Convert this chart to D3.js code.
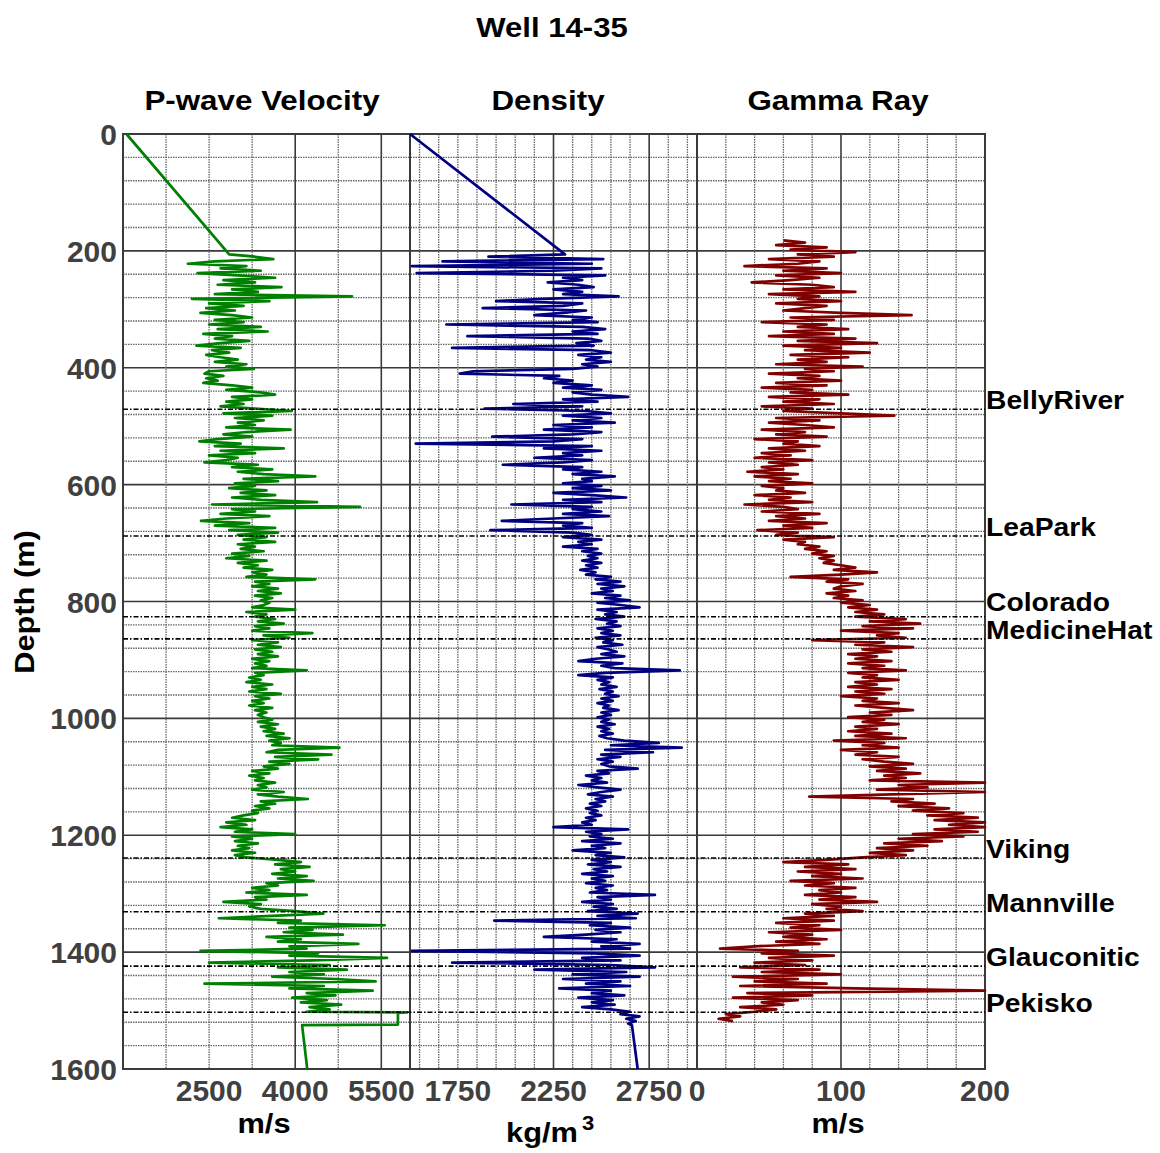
<!DOCTYPE html>
<html><head><meta charset="utf-8">
<script src="https://cdn.jsdelivr.net/npm/d3@7"></script>
<style>
body{margin:0;background:#fff}
text{font-family:"Liberation Sans",Arial,Helvetica,sans-serif;font-weight:bold}
</style>
</head><body>
<svg id="chart" width="1160" height="1153"></svg>
<script>
// ---------------- DATA ----------------
const chartTitle = "Well 14-35";
const panelTitles = ["P-wave Velocity", "Density", "Gamma Ray"];
const panelUnits = ["m/s", "kg/m", "m/s"];
const depthTicks = [0, 200, 400, 600, 800, 1000, 1200, 1400, 1600];
const velTicks = [2500, 4000, 5500];
const denTicks = [1750, 2250, 2750];
const grTicks = [0, 100, 200];

const formationNames = ["BellyRiver", "LeaPark", "Colorado", "MedicineHat", "Viking", "Mannville", "Glauconitic", "Pekisko"];
const formationDepths = [471, 688, 826, 864, 1239, 1331, 1424, 1503];

// P-wave velocity (m/s): surface point, samples every 4 m from 206 m, tail
const velHead = [[0, 1060]];
const velStart = 206, velStep = 4;
const velValues = [
2850,3300,3620,2600,2130,3150,2700,3400,2300,3000,
3650,2750,3300,2650,3760,2900,3350,2600,4990,2200,
3550,2500,3100,2450,2950,2350,2900,3250,2600,3100,
2500,3400,2650,3520,2400,2900,2600,3200,2700,2280,
3050,2550,2850,2450,2700,3000,2600,3150,2800,3280,
2500,2420,2750,2450,2650,2400,2900,3250,2800,3400,
3650,2900,3250,2800,3100,2700,3300,3940,2750,3600,
2950,3450,3000,3300,2800,3920,3150,2750,3250,2650,
2330,3050,2600,3800,2700,3300,2500,3000,2800,2420,
3350,2900,3600,3000,3450,4350,3100,3700,2950,3300,
2850,3500,3050,3650,2900,3400,4380,2550,5130,2900,
3300,2700,3550,2800,2360,3200,2600,3650,2850,3700,
3000,3500,3100,3650,3000,3300,3050,3450,2900,3200,
2800,3500,3000,3350,3100,3600,3250,3500,3150,4350,
3300,3550,3250,3700,3350,3750,3300,3600,3400,3550,
3450,3250,4000,3150,3500,3300,3650,3350,3800,3300,
3550,3250,4300,3450,3900,3250,3700,3350,3750,3300,
3600,3350,3700,3250,3550,3300,3500,3250,4200,3300,
3450,3200,3400,3150,3600,3250,3500,3200,3750,3300,
3550,3250,3450,3200,3600,3300,3500,3350,3450,3600,
3350,3700,3400,3650,3450,3800,3500,3900,3550,3750,
3600,4770,3700,3500,4630,3650,4400,3550,3900,3450,
3700,3250,3550,3200,3450,3300,3650,3350,3500,3250,
3800,3350,3700,4220,3400,3650,3300,3550,3250,3350,
3100,2900,3300,2800,3150,2700,3250,2950,4000,2900,
3250,2950,3350,3000,3200,2900,3300,2950,3150,3700,
4100,3650,4250,3750,4000,3600,4200,3700,4320,3500,
3700,3250,3550,3150,4200,3300,3500,2750,3400,3200,
3400,4000,4490,3600,2670,4100,3700,5560,3900,4300,
3800,4830,3500,4100,3700,5100,3900,4200,2350,4400,
3900,5600,4300,2500,4600,3700,4900,3900,4500,3600,
4700,5400,2420,4500,3900,5350,4200,4700,3950,4550,
4100,4800,4250,4600
];
const velTail = [[1502, 4200], [1503, 5950], [1504, 5790], [1524, 5790], [1525, 4120], [1600, 4210]];

// Density (kg/m^3)
const denHead = [[0, 1500]];
const denStart = 206, denStep = 4;
const denValues = [
2310,1910,2510,1670,2450,1510,2500,2250,1535,2520,
2300,2400,2220,2380,2460,2250,2400,2300,2590,2200,
1950,2400,2300,1880,2420,2300,2150,2450,2350,2480,
1690,2400,2520,2350,2480,1800,2430,2500,2370,2460,
1720,2450,2550,2380,2500,2420,2550,2400,2480,2350,
1830,1760,2280,2200,2350,2250,2450,2300,2500,2350,
2450,2640,2300,2480,2040,2400,1890,2420,2550,2300,
2500,2350,2570,2250,2450,2200,2500,2350,1930,2400,
2250,1530,2450,2200,2500,2300,2400,2150,2450,2300,
1985,2400,2300,2500,2350,2570,2400,2450,2300,2500,
2350,2550,2250,2450,2630,2300,2500,2030,2450,2350,
2500,2300,2540,2250,1980,2400,2300,2450,1920,2350,
2450,2300,2500,2380,2450,2300,2480,2400,2500,2430,
2480,2400,2500,2420,2480,2390,2470,2420,2550,2470,
2600,2480,2620,2500,2560,2450,2600,2520,2650,2480,
2600,2700,2480,2580,2520,2620,2470,2580,2530,2600,
2480,2560,2500,2600,2470,2560,2510,2610,2480,2540,
2580,2500,2620,2470,2380,2610,2500,2570,2910,2520,
2380,2560,2480,2540,2500,2580,2490,2560,2520,2590,
2500,2560,2480,2540,2510,2590,2500,2550,2480,2540,
2500,2570,2480,2540,2500,2560,2490,2530,2620,2800,
2550,2920,2520,2770,2500,2600,2480,2560,2500,2540,
2690,2480,2540,2420,2500,2450,2530,2380,2480,2600,
2500,2430,2560,2470,2520,2440,2500,2420,2480,2440,
2500,2420,2470,2400,2450,2250,2640,2420,2500,2440,
2560,2400,2600,2450,2520,2350,2550,2470,2620,2450,
2550,2430,2600,2460,2530,2400,2560,2450,2520,2420,
2560,2470,2530,2440,2780,2480,2550,2400,2560,2460,
2580,2430,2690,2480,2680,1940,2550,2440,2650,2470,
2600,2420,2200,2580,2450,2700,2500,2650,1510,2460,
2700,2400,2600,1720,2550,2780,2150,2630,2350,2700,
2300,2600,2420,2650,2280,2550,2450,2620,2380,2560,
2450,2570,2400,2550,2650,2600,2700,2630,2680,2640
];
const denTail = [[1525, 2660], [1600, 2690]];

// Gamma ray
const grStart = 182, grStep = 4;
const grValues = [
60,75,55,90,65,110,70,95,50,85,
70,33,90,60,100,55,85,65,38,80,
95,60,110,50,85,70,100,55,90,75,
60,100,149,65,95,45,90,70,105,60,
95,50,110,70,125,60,100,75,120,65,
105,70,90,55,115,75,95,50,85,70,
100,55,90,45,80,65,105,50,85,60,
95,45,80,60,100,137,55,85,50,75,
95,45,75,55,90,40,70,60,85,50,
75,45,65,40,80,50,70,45,60,35,
70,40,65,50,80,45,60,55,75,40,
65,50,80,33,60,70,45,85,55,75,
50,90,60,80,42,70,55,95,60,75,
70,85,75,90,80,95,85,95,88,100,
110,95,125,100,65,105,90,115,100,95,
110,90,105,95,115,100,120,105,125,110,
130,110,145,120,155,115,150,100,140,125,
145,80,130,110,150,115,135,105,125,110,
135,105,130,115,145,105,125,115,140,110,
125,105,135,110,130,100,125,115,140,110,
130,150,120,135,105,130,115,140,110,125,
105,135,110,145,95,130,115,140,100,125,
110,140,115,130,150,120,145,125,155,130,
145,120,200,140,160,125,200,135,78,150,
135,165,140,175,150,185,160,195,165,200,
175,200,165,195,150,185,140,170,130,160,
125,150,120,145,115,90,60,105,75,110,
70,100,80,115,65,95,75,110,85,100,
75,110,85,125,80,100,90,115,75,95,
60,95,55,85,65,100,50,80,60,90,
55,85,40,16,70,45,95,50,80,40,
75,30,85,45,100,25,70,40,90,30,
110,200,35,80,25,70,45,60,30,55,
40,20,30,15,25
];

// ---------------- LAYOUT ----------------
const svg = d3.select("#chart");
const plotTop = 134, plotBottom = 1069;
const y = d3.scaleLinear().domain([0, 1600]).range([plotTop, plotBottom]);
const xVel = d3.scaleLinear().domain([1000, 6000]).range([123, 410]);
const xDen = d3.scaleLinear().domain([1500, 3000]).range([410, 697]);
const xGR = d3.scaleLinear().domain([0, 200]).range([697, 985]);
const plotLeft = 123, plotRight = 985;

function label(g, s, x, yy, size, sx, anchor, fill, rot) {
  return g.append("text")
    .attr("transform", `translate(${x},${yy})` + (rot ? ` rotate(${rot})` : "") + ` scale(${sx},1)`)
    .attr("text-anchor", anchor).attr("font-size", size).attr("fill", fill).text(s);
}

const grid = svg.append("g");
d3.range(0, 1601, 40).forEach(d => {
  const major = d % 200 === 0;
  grid.append("line").attr("x1", plotLeft).attr("x2", plotRight).attr("y1", y(d)).attr("y2", y(d))
    .attr("stroke", major ? "#3a3a3a" : "#666")
    .attr("stroke-width", major ? 1.6 : 1.3)
    .attr("stroke-dasharray", major ? null : "1.5,1");
});
function vgrid(scale, vals, majors) {
  vals.forEach(v => {
    const major = majors.includes(v);
    grid.append("line").attr("x1", scale(v)).attr("x2", scale(v)).attr("y1", plotTop).attr("y2", plotBottom)
      .attr("stroke", major ? "#3a3a3a" : "#666")
      .attr("stroke-width", major ? 1.6 : 1.3)
      .attr("stroke-dasharray", major ? null : "1.5,1");
  });
}
vgrid(xVel, d3.range(1750, 6000, 750), [4000, 5500]);
vgrid(xDen, d3.range(1550, 3000, 100), [2250, 2750]);
vgrid(xGR, d3.range(20, 200, 20), [100]);

[[123, 410], [410, 697], [697, 985]].forEach(([a, b]) => {
  grid.append("rect").attr("x", a).attr("y", plotTop).attr("width", b - a).attr("height", plotBottom - plotTop)
    .attr("fill", "none").attr("stroke", "#3a3a3a").attr("stroke-width", 2);
});

// ---------------- LOG CURVES ----------------
function pts(head, start, step, vals, tail) {
  const p = head ? head.slice() : [];
  vals.forEach((v, i) => p.push([start + i * step, v]));
  if (tail) tail.forEach(t => p.push(t));
  return p;
}
function curve(points, xs, color) {
  const line = d3.line().x(p => xs(p[1])).y(p => y(p[0]));
  svg.append("path").attr("d", line(points)).attr("fill", "none")
    .attr("stroke", color).attr("stroke-width", 2.7).attr("stroke-linejoin", "round");
}
curve(pts(velHead, velStart, velStep, velValues, velTail), xVel, "#008000");
curve(pts(denHead, denStart, denStep, denValues, denTail), xDen, "#000080");
curve(pts(null, grStart, grStep, grValues, null), xGR, "#800000");

// ---------------- FORMATION TOPS ----------------
formationDepths.forEach((d, i) => {
  svg.append("line").attr("x1", plotLeft).attr("x2", plotRight).attr("y1", y(d)).attr("y2", y(d))
    .attr("stroke", "#000").attr("stroke-width", 1.6).attr("stroke-dasharray", "5,2,1.5,2");
  const ly = formationNames[i] === "Colorado" ? y(d) - 6 : y(d);
  label(svg, formationNames[i], 986, ly, 25, 1.13, "start", "#000");
});

// ---------------- AXES / TEXT ----------------
const tickCol = "#404040";
const ax = svg.append("g");
depthTicks.forEach(d => label(ax, String(d), 117, y(d) + 11, 30, 1.0, "end", tickCol));
velTicks.forEach(v => label(ax, String(v), xVel(v), 1101, 30, 1.0, "middle", tickCol));
denTicks.forEach(v => label(ax, String(v), xDen(v), 1101, 30, 1.0, "middle", tickCol));
grTicks.forEach(v => label(ax, String(v), xGR(v), 1101, 30, 1.0, "middle", tickCol));

label(svg, chartTitle, 552, 37, 28, 1.11, "middle", "#000");
label(svg, panelTitles[0], 262, 110, 28, 1.12, "middle", "#000");
label(svg, panelTitles[1], 548, 110, 28, 1.12, "middle", "#000");
label(svg, panelTitles[2], 838, 110, 28, 1.12, "middle", "#000");

label(svg, panelUnits[0], 264, 1133, 28, 1.1, "middle", "#000");
label(svg, panelUnits[2], 838, 1133, 28, 1.1, "middle", "#000");
label(svg, panelUnits[1], 542, 1142, 28, 1.1, "middle", "#000");
label(svg, "3", 588, 1130, 20, 1.1, "middle", "#000");
label(svg, "Depth (m)", 34, 602, 28, 1.1, "middle", "#000", -90);
</script>
</body></html>
